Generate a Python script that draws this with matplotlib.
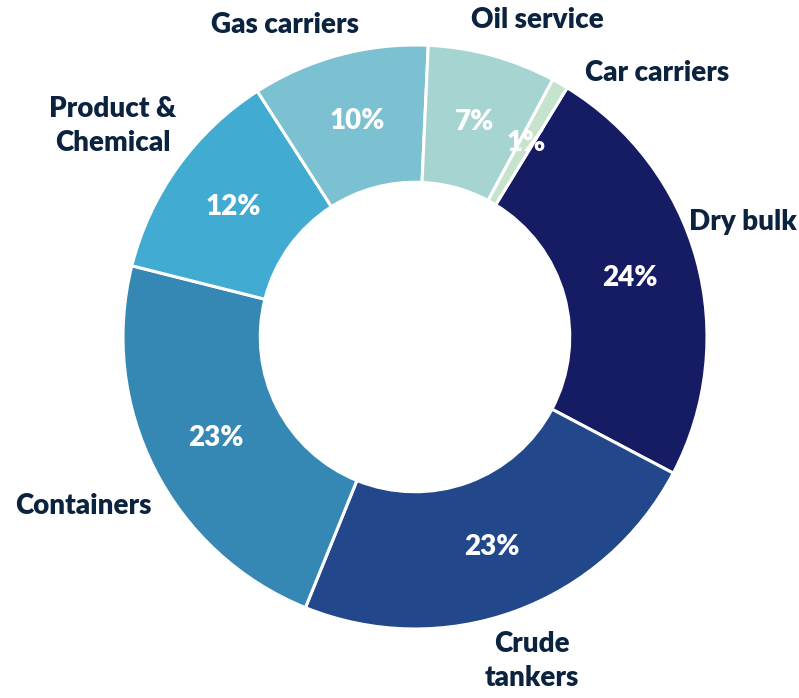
import numpy as np
import matplotlib.pyplot as plt

# %% data
segments = ["Dry bulk", "Crude tankers", "Containers", "Product & Chemical",
            "Gas carriers", "Oil service", "Car carriers"]
shares = [24.0, 23.4, 22.8, 12.0, 9.8, 7.1, 0.9]
colors = ["#151c63", "#22488b", "#3588b3", "#41abd1",
          "#7bc1d1", "#a6d4d1", "#c5e3cd"]
outer_labels = ["Dry bulk", "Crude\ntankers", "Containers", "Product &\nChemical",
                "Gas carriers", "Oil service", "Car carriers"]
# label anchor (pixel coords in the 799x698 canvas) and alignment
label_pos = [(797, 222, "right"), (532, 661, "center"), (83, 506, "center"),
             (113, 126, "center"), (285, 25, "center"), (537, 20, "center"),
             (657, 73, "center")]

text_col = "#0c2340"
font = ["Lato", "DejaVu Sans"]
plt.rcParams["font.family"] = font

W, H = 799, 698
cx, cy, R = 415, H - 337, 292

fig = plt.figure(figsize=(W / 100, H / 100), dpi=100)
ax = fig.add_axes([0, 0, 1, 1])

wedges, _, pct = ax.pie(shares, colors=colors, startangle=58.6, counterclock=False,
                        radius=R, center=(cx, cy), autopct="%.0f%%", pctdistance=0.765,
                        wedgeprops=dict(width=R * 0.47, edgecolor="white", linewidth=2.2),
                        textprops=dict(color="white", fontsize=20, fontweight="heavy"))

for lab, (x, y, ha) in zip(outer_labels, label_pos):
    ax.text(x, H - y, lab, ha=ha, va="center", color=text_col, fontsize=20,
            fontweight="heavy", linespacing=1.4, multialignment="center")

ax.set_xlim(0, W)
ax.set_ylim(0, H)
ax.set_aspect("equal")
ax.axis("off")

fig.savefig("out.png", dpi=100)
